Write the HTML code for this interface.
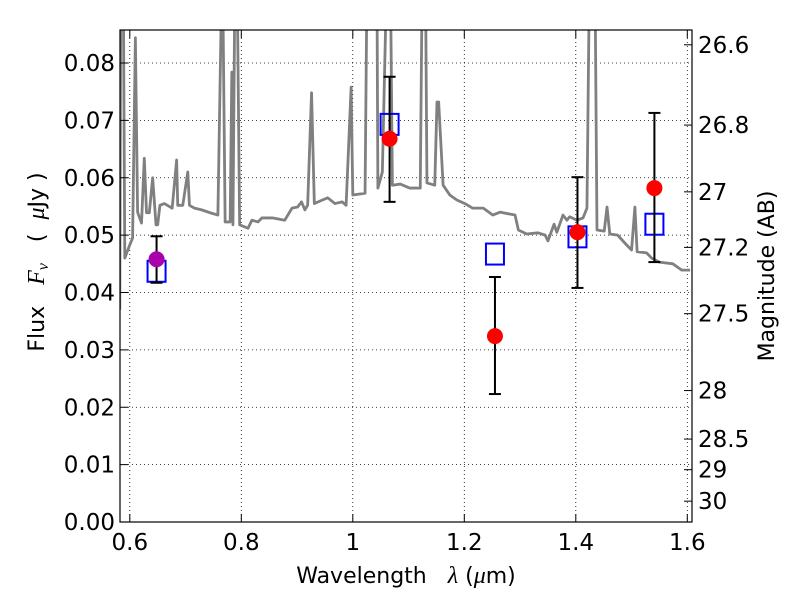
<!DOCTYPE html>
<html><head><meta charset="utf-8"><style>
body{margin:0;background:#fff}
svg text{font-family:"DejaVu Sans","Liberation Sans",sans-serif;fill:#000}
</style></head><body>
<svg id="chart" width="800" height="600" xmlns="http://www.w3.org/2000/svg">
<defs><clipPath id="clip"><rect x="120" y="30" width="572" height="492"/></clipPath></defs>
<rect width="800" height="600" fill="#fff"/>
<g id="grid"></g>
<g id="spec" clip-path="url(#clip)"></g>
<g id="marks"></g>
<rect x="120" y="30" width="572" height="492" fill="none" stroke="#000" stroke-width="1.2"/>
<g id="axes"></g>
<text x="406" y="583" font-size="22" text-anchor="middle">Wavelength&#160;&#160;&#160;<tspan font-style="italic" font-family="Liberation Serif" font-size="24">λ</tspan> (<tspan font-style="italic" font-family="Liberation Serif" font-size="24">μ</tspan>m)</text>
<text transform="translate(44,262) rotate(-90)" font-size="22" text-anchor="middle">Flux&#160;&#160;&#160;<tspan font-style="italic" font-family="Liberation Serif" font-size="24">F</tspan><tspan font-style="italic" font-family="Liberation Serif" font-size="16" dy="4">ν</tspan><tspan dy="-4">&#160;&#160;&#160;(&#160;&#160;</tspan><tspan font-style="italic" font-family="Liberation Serif" font-size="24">μ</tspan>Jy )</text>
<text transform="translate(774,276) rotate(-90)" font-size="22" text-anchor="middle">Magnitude (AB)</text>
</svg>
<script>
const specWl=[0.582,0.584,0.588,0.591,0.600,0.605,0.610,0.614,0.621,0.626,0.630,0.635,0.641,0.647,0.650,0.654,0.662,0.676,0.684,0.686,0.695,0.704,0.707,0.716,0.729,0.744,0.758,0.766,0.771,0.780,0.783,0.785,0.789,0.792,0.797,0.812,0.819,0.830,0.837,0.856,0.878,0.891,0.901,0.908,0.914,0.919,0.926,0.931,0.945,0.955,0.968,0.981,0.988,0.997,1.000,1.022,1.026,1.043,1.045,1.053,1.062,1.067,1.071,1.085,1.102,1.121,1.125,1.130,1.133,1.147,1.151,1.154,1.162,1.174,1.187,1.201,1.215,1.234,1.251,1.264,1.291,1.297,1.312,1.332,1.345,1.350,1.361,1.366,1.377,1.384,1.389,1.402,1.413,1.420,1.425,1.434,1.438,1.451,1.456,1.461,1.475,1.491,1.500,1.506,1.510,1.527,1.536,1.550,1.574,1.590,1.605];
const specFlux=[0.037,0.1,0.1,0.046,0.0483,0.0495,0.0844,0.054,0.0521,0.0634,0.0539,0.0539,0.06,0.0518,0.0518,0.0552,0.0555,0.0547,0.0631,0.0552,0.0552,0.061,0.0552,0.0547,0.0544,0.0539,0.0535,0.1,0.0523,0.0523,0.0784,0.0518,0.1,0.1,0.0518,0.0512,0.0526,0.0523,0.053,0.053,0.0526,0.0547,0.0549,0.0558,0.0544,0.0552,0.0748,0.0555,0.0561,0.0565,0.0555,0.0558,0.0552,0.0758,0.057,0.0573,0.1,0.1,0.0582,0.061,0.1,0.1,0.0587,0.0589,0.0582,0.0582,0.1,0.1,0.0591,0.0587,0.0732,0.0732,0.0587,0.057,0.0561,0.0555,0.0547,0.0547,0.0535,0.054,0.0535,0.0509,0.0502,0.0504,0.05,0.049,0.0519,0.0505,0.0535,0.0526,0.0532,0.0526,0.053,0.0547,0.1,0.1,0.0509,0.0507,0.0549,0.0502,0.05,0.0483,0.0474,0.0549,0.0471,0.0469,0.046,0.0453,0.045,0.0439,0.0439];
const obsWl=[0.648,1.066,1.255,1.403,1.541];
const obsFlux=[0.0458,0.0668,0.0324,0.0505,0.0582];
const obsErrLo=[0.0417,0.0558,0.0223,0.0408,0.0453];
const obsErrHi=[0.0498,0.0776,0.0427,0.0601,0.0713];
const obsColor=['#aa00aa','red','red','red','red'];
const modelWl=[0.648,1.066,1.255,1.403,1.541];
const modelFlux=[0.0437,0.0693,0.0467,0.0497,0.0519];
const xTicks=[0.6,0.8,1.0,1.2,1.4,1.6];
const xTickLabels=['0.6','0.8','1','1.2','1.4','1.6'];
const yTicks=[0,0.01,0.02,0.03,0.04,0.05,0.06,0.07,0.08];
const yTickLabels=['0.00','0.01','0.02','0.03','0.04','0.05','0.06','0.07','0.08'];
const magTicks=[26.6,26.8,27,27.2,27.5,28,28.5,29,30];
const magTickLabels=['26.6','26.8','27','27.2','27.5','28','28.5','29','30'];

const NS='http://www.w3.org/2000/svg';
const X=v=>129.8+(v-0.6)*557.5;
const Y=v=>522-v*5737.5;
const magToFlux=m=>Math.pow(10,-(m-23.9)/2.5);
function mk(tag,attrs,parent){const e=document.createElementNS(NS,tag);for(const k in attrs)e.setAttribute(k,attrs[k]);parent.appendChild(e);return e;}
const grid=document.getElementById('grid'),axes=document.getElementById('axes'),spec=document.getElementById('spec'),marks=document.getElementById('marks');

xTicks.forEach((t,i)=>{
  const x=X(t);
  const g=mk('line',{x1:x,x2:x,y1:30,y2:522,stroke:'#000','stroke-width':0.8,'stroke-dasharray':'1,3'},grid);
  
  
  mk('line',{x1:x,x2:x,y1:522,y2:514,stroke:'#000'},axes);
  mk('line',{x1:x,x2:x,y1:30,y2:38,stroke:'#000'},axes);
  const tx=mk('text',{x:x,y:550,'font-size':23,'text-anchor':'middle'},axes);
  tx.textContent=xTickLabels[i];
  
  
});
yTicks.forEach((t,i)=>{
  const y=Y(t);
  const g=mk('line',{x1:120,x2:692,y1:y,y2:y,stroke:'#000','stroke-width':0.8,'stroke-dasharray':'1,3'},grid);
  
  
  mk('line',{x1:120,x2:128,y1:y,y2:y,stroke:'#000'},axes);
  const tx=mk('text',{x:115,y:y+8,'font-size':23,'text-anchor':'end'},axes);
  tx.textContent=yTickLabels[i];
  
  
});
magTicks.forEach((m,i)=>{
  const y=Y(magToFlux(m));
  mk('line',{x1:684,x2:692,y1:y,y2:y,stroke:'#000'},axes);
  const tx=mk('text',{x:698,y:y+8,'font-size':23},axes);
  tx.textContent=magTickLabels[i];
  
  
});

const p=mk('polyline',{points:specWl.map((w,i)=>X(w)+','+Y(specFlux[i])).join(' '),fill:'none',stroke:'#808080','stroke-width':2.8,'stroke-linejoin':'round'},spec);



modelWl.forEach((w,i)=>{
  const r=mk('rect',{x:X(w)-9,y:Y(modelFlux[i])-10.5,width:18,height:21,fill:'none',stroke:'#0000ff','stroke-width':2},marks);
  
  
});
obsWl.forEach((w,i)=>{
  const x=X(w);
  const g=mk('g',{},marks);
  
  
  mk('line',{x1:x,x2:x,y1:Y(obsErrLo[i]),y2:Y(obsErrHi[i]),stroke:'#000','stroke-width':2},g);
  mk('line',{x1:x-6,x2:x+6,y1:Y(obsErrLo[i]),y2:Y(obsErrLo[i]),stroke:'#000','stroke-width':2},g);
  mk('line',{x1:x-6,x2:x+6,y1:Y(obsErrHi[i]),y2:Y(obsErrHi[i]),stroke:'#000','stroke-width':2},g);
  const c=mk('circle',{cx:x,cy:Y(obsFlux[i]),r:8,fill:obsColor[i]},marks);
  
  
});
</script>
</body></html>
